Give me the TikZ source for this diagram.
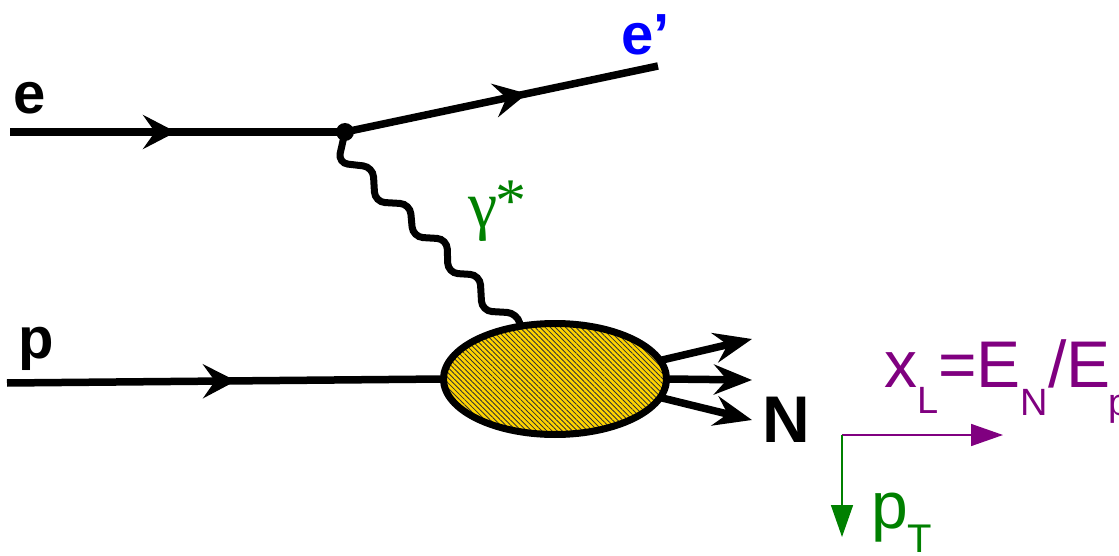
\documentclass[tikz,border=0pt]{standalone}
\usepackage{fontspec}
\setmainfont{Liberation Sans}
\newfontfamily\greekserif{Liberation Serif}
\usetikzlibrary{arrows.meta,decorations.markings,shapes.geometric,patterns.meta}
\definecolor{blobfill}{RGB}{255,212,0}
\definecolor{lblgreen}{RGB}{0,128,0}
\definecolor{lblpurple}{RGB}{128,0,128}
\definecolor{lblblue}{RGB}{0,0,255}
\newcommand\setfs[1]{\fontsize{#1}{#1}\selectfont}
\begin{document}
\begin{tikzpicture}[x=1pt,y=-1pt,
  fermion/.style={line width=7.5pt},
  midarrow/.style={postaction={decorate},decoration={markings,
    mark=at position #1 with {\arrow{Stealth[length=33pt,width=34pt,inset=12pt]}}}},
  outarrow/.style={fermion,-{Stealth[length=38pt,width=30pt,inset=13pt]}},
  photon/.style={line width=7pt,rounded corners=10pt},
  thinarrow/.style={line width=1.6pt,-{Triangle[length=32pt,width=22pt]}},
  lbl/.style={inner sep=0pt,outer sep=0pt,anchor=base west},
  blobstyle/.style={ellipse,draw,line width=7pt,minimum width=223pt,minimum height=111pt,
    inner sep=0pt,preaction={fill=blobfill},
    pattern={Lines[angle=-45,distance=3.6pt,line width=0.85pt]},pattern color=black!80}]
\useasboundingbox (0,0) rectangle (1119,556);

% vertex and blob
\node[circle,fill=black,inner sep=0pt,minimum size=18pt] (v) at (345,132) {};
\node[blobstyle] (blob) at (555,379) {};

% coordinates
\coordinate (estart) at (10,132);
\coordinate (eend) at (658,66);
\coordinate (pstart) at (7,383);
\coordinate (n1) at (752,339);
\coordinate (n2) at (752,380);
\coordinate (n3) at (752,420);
\coordinate (ax) at (842,435);
\coordinate (axx) at (1003,435);
\coordinate (axy) at (842,537);

% fermion lines
\draw[fermion,midarrow=166pt] (estart) -- (v.center);
\draw[fermion,midarrow=186pt] (v.center) -- (eend);
\draw[fermion,midarrow=229pt] (pstart) -- (blob.west);

% photon
\draw[photon] (v.center) -- (338,163) -- (373,167) -- (375,202) -- (410,204)
  -- (413,237) -- (447,239) -- (448,273) -- (480,275) -- (482,311) -- (517,313) -- (blob.123);

% outgoing
\draw[outarrow] (blob.10) -- (n1);
\draw[outarrow] (blob.east) -- (n2);
\draw[outarrow] (blob.-10) -- (n3);

% axes
\draw[thinarrow,draw=lblpurple,fill=lblpurple] (ax) -- (axx);
\draw[thinarrow,draw=lblgreen,fill=lblgreen] (ax) -- (axy);

% labels
\node[lbl] (elab) at (13,114) {\setfs{58pt}\bfseries e};
\node[lbl] (plab) at (18,358) {\setfs{58pt}\bfseries p};
\node[lbl,text=lblblue] (eplab) at (621,55) {\setfs{58pt}\bfseries e’};
\node[lbl] (nlab) at (762,442) {\setfs{66pt}\bfseries N};
\node[lbl,text=lblgreen] (glab) at (468,228) {\greekserif\setfs{66pt}γ\kern-2pt\raisebox{6pt}{\setfs{62pt}*}};
\node[lbl,text=lblpurple] (xlab) at (884,387) {\setfs{66pt}x\raisebox{-26pt}{\setfs{38pt}L}=E\raisebox{-28pt}{\setfs{38pt}N}/E\kern-2pt\raisebox{-28pt}{\setfs{38pt}p}};
\node[lbl,text=lblgreen] (ptlab) at (871,528) {\setfs{66pt}p\raisebox{-24pt}{\setfs{40pt}T}};
\end{tikzpicture}
\end{document}
